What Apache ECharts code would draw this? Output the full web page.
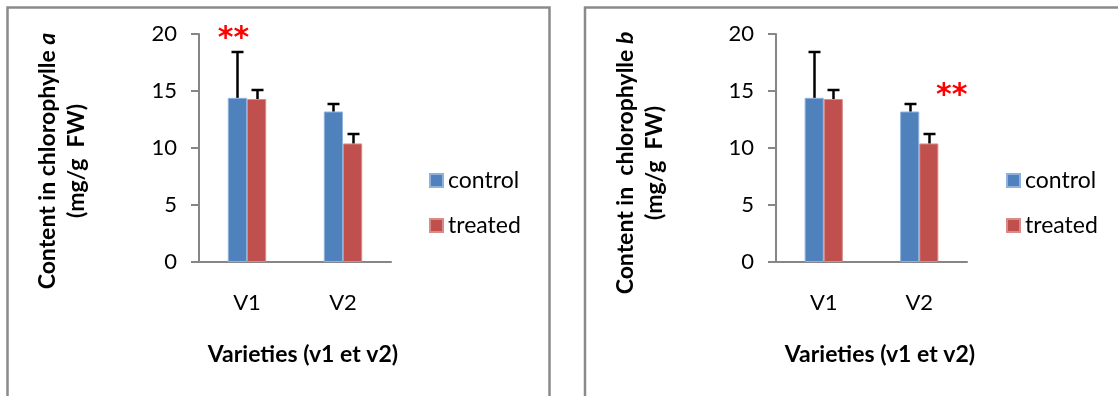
<!DOCTYPE html>
<html><head><meta charset="utf-8">
<script src="https://cdn.jsdelivr.net/npm/echarts@6/dist/echarts.min.js"></script>
<style>html,body{margin:0;padding:0;background:#fff}#c{width:1118px;height:396px}</style>
</head><body><div id="c"></div>
<script>
// ---- data ----
const categories = ['V1', 'V2'];
const seriesNames = ['control', 'treated'];
const yMin = 0, yMax = 20, yStep = 5;
// chlorophyll a
const controlA = [14.4, 13.2];
const treatedA = [14.3, 10.4];
const controlErrA = [4.0, 0.7];
const treatedErrA = [0.8, 0.8];
// chlorophyll b
const controlB = [14.4, 13.2];
const treatedB = [14.3, 10.4];
const controlErrB = [4.0, 0.7];
const treatedErrB = [0.8, 0.8];
// significance marks: [category, value, text]
const sigA = [['V1', 20, '**']];
const sigB = [['V2', 15, '**']];
const xTitle = 'Varieties (v1 et v2)';

// ---- style ----
const FONT = 'Lato, "Liberation Sans", sans-serif';
const BLUE = '#4F81BD', RED = '#C0504D', AXIS = '#868686';
const CAT_GAP = 0.6;

function errRender(sign) {
  return function (params, api) {
    const idx = api.value(0), v = api.value(1), e = api.value(2);
    const base = api.coord([idx, v]);
    const top = api.coord([idx, v + e]);
    const bw = api.size([1, 0])[0] * (1 - CAT_GAP) / 2;
    const x = Math.round(base[0] + sign * bw / 2) + 0.5;
    const ty = Math.round(top[1]);
    return {
      type: 'group', children: [
        { type: 'line', shape: { x1: x, y1: base[1], x2: x, y2: ty }, style: { stroke: '#000', lineWidth: 2.5 } },
        { type: 'line', shape: { x1: x - 6, y1: ty, x2: x + 6, y2: ty }, style: { stroke: '#000', lineWidth: 2.5 } }
      ]
    };
  };
}
function errData(vals, errs) { return vals.map((v, i) => [i, v, errs[i]]); }

function sigMark(list, off) {
  return {
    symbol: 'circle', symbolSize: 0, silent: true,
    label: { show: true, position: 'inside', offset: off, formatter: p => p.name,
      color: '#FF0000', fontSize: 30, fontFamily: '"DejaVu Sans", sans-serif', fontWeight: 'bold' },
    data: list.map(s => ({ coord: [s[0], s[1]], name: s[2] }))
  };
}

const grids = [
  { left: 199, top: 34, width: 192, height: 228 },
  { left: 776, top: 34, width: 191, height: 228 }
];
const xAxes = grids.map((g, i) => ({
  type: 'category', gridIndex: i, data: categories,
  axisLine: { lineStyle: { color: AXIS, width: 2 } },
  axisTick: { show: false },
  axisLabel: { margin: 30, color: '#000', fontSize: 22, fontFamily: FONT }
}));
const yAxes = grids.map((g, i) => ({
  type: 'value', gridIndex: i, min: yMin, max: yMax, interval: yStep,
  axisLine: { show: true, lineStyle: { color: AXIS, width: 2 } },
  axisTick: { show: true, length: 8, lineStyle: { color: AXIS, width: 2 } },
  splitLine: { show: false },
  axisLabel: { margin: 22, color: '#000', fontSize: 22, fontFamily: FONT }
}));

function barSeries(name, data, color, idx, mark) {
  const s = {
    name, type: 'bar', xAxisIndex: idx, yAxisIndex: idx, data,
    barGap: '0%', barCategoryGap: (CAT_GAP * 100) + '%',
    itemStyle: { color, borderColor: color === BLUE ? '#8fb2dc' : '#d98b88', borderWidth: 1 }
  };
  if (mark) s.markPoint = mark;
  return s;
}
function errSeries(name, vals, errs, sign, idx) {
  return { name, type: 'custom', xAxisIndex: idx, yAxisIndex: idx, renderItem: errRender(sign),
    data: errData(vals, errs), z: 5, silent: true };
}

const legends = [429, 1006].map(l => ({
  data: seriesNames, orient: 'vertical', left: l, top: 169, padding: 0, icon: 'rect',
  itemWidth: 13, itemHeight: 13, itemGap: 22, itemTextGap: 7,
  textStyle: { fontSize: 23, lineHeight: 22, fontFamily: FONT, color: '#000' }
}));

const titleRich = {
  b: { fontSize: 23, fontWeight: 'bold', fontFamily: FONT, fill: '#000', lineHeight: 29 },
  bi: { fontSize: 23, fontWeight: 'bold', fontStyle: 'italic', fontFamily: FONT, fill: '#000', lineHeight: 29 }
};
const graphics = [
  { type: 'rect', shape: { x: 7.5, y: 7.5, width: 542, height: 430 }, style: { fill: 'none', stroke: '#8a8a8a', lineWidth: 2.5 }, silent: true },
  { type: 'rect', shape: { x: 585, y: 7.5, width: 600, height: 430 }, style: { fill: 'none', stroke: '#8a8a8a', lineWidth: 2.5 }, silent: true },
  { type: 'text', x: 62, y: 161, rotation: Math.PI / 2,
    style: { text: '{b|Content in chlorophylle }{bi|a}\n{b|(mg/g  FW)}', rich: titleRich, align: 'center', verticalAlign: 'middle' } },
  { type: 'text', x: 640, y: 163, rotation: Math.PI / 2,
    style: { text: '{b|Content in  chlorophylle }{bi|b}\n{b|(mg/g  FW)}', rich: titleRich, align: 'center', verticalAlign: 'middle' } },
  { type: 'text', x: 303, y: 355, style: { text: xTitle, font: 'bold 23px ' + FONT, fill: '#000', align: 'center', verticalAlign: 'middle' } },
  { type: 'text', x: 880, y: 355, style: { text: xTitle, font: 'bold 23px ' + FONT, fill: '#000', align: 'center', verticalAlign: 'middle' } }
];

const chart = echarts.init(document.getElementById('c'), null, { renderer: 'canvas' });
chart.setOption({
  animation: false,
  backgroundColor: '#fff',
  grid: grids, xAxis: xAxes, yAxis: yAxes, legend: legends,
  graphic: graphics,
  series: [
    barSeries('control', controlA, BLUE, 0, sigMark(sigA, [-4, 5])),
    barSeries('treated', treatedA, RED, 0),
    errSeries('errCtrlA', controlA, controlErrA, -1, 0),
    errSeries('errTrtA', treatedA, treatedErrA, 1, 0),
    barSeries('control', controlB, BLUE, 1),
    barSeries('treated', treatedB, RED, 1, sigMark(sigB, [23, 5])),
    errSeries('errCtrlB', controlB, controlErrB, -1, 1),
    errSeries('errTrtB', treatedB, treatedErrB, 1, 1)
  ]
});
</script></body></html>
